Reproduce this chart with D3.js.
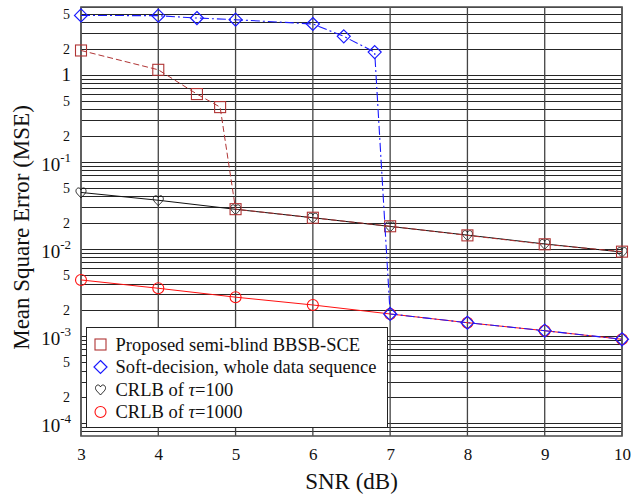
<!DOCTYPE html>
<html>
<head>
<meta charset="utf-8">
<script src="https://cdn.jsdelivr.net/npm/d3@7"></script>
<style>
  body { margin: 0; background: #fff; }
  svg { font-family: "Liberation Serif", "Times New Roman", serif; }
</style>
</head>
<body>
<div id="chart"></div>
<script>
// data
var snrProposed = [3, 4, 4.5, 4.8, 5, 6, 7, 8, 9, 10];
var mseProposed = [1.9, 1.14, 0.6, 0.425, 0.0286, 0.0228, 0.0182, 0.0143, 0.0113, 0.0093];

var snrSoft = [3, 4, 4.5, 5, 6, 6.4, 6.8, 7, 8, 9, 10];
var mseSoft = [4.8, 4.77, 4.48, 4.29, 3.83, 2.76, 1.82, 0.00179, 0.00142, 0.00115, 0.000916];

var snrCrlb = [3, 4, 5, 6, 7, 8, 9, 10];
var mseCrlb100 = [0.0445, 0.0362, 0.0285, 0.0228, 0.0181, 0.0144, 0.0114, 0.0092];
var mseCrlb1000 = [0.0044, 0.00353, 0.00279, 0.00227, 0.00179, 0.00142, 0.00115, 0.000916];

var xTicks = [3, 4, 5, 6, 7, 8, 9, 10];
var yMajor = [1e-4, 1e-3, 1e-2, 1e-1, 1];
var yMinorLabeled = [2e-4, 5e-4, 2e-3, 5e-3, 2e-2, 5e-2, 2e-1, 5e-1, 2, 5];

// legend labels: [before tau, tau, after tau]
var legendNames = [
    ['Proposed semi-blind BBSB-SCE', '', ''],
    ['Soft-decision, whole data sequence', '', ''],
    ['CRLB of ', '\u03c4', '=100'],
    ['CRLB of ', '\u03c4', '=1000']
];

var W = 634, H = 494;
var plot = { left: 81, right: 622, top: 7, bottom: 436 };

var svg = d3.select('#chart').append('svg')
    .attr('width', W).attr('height', H);

var x = d3.scaleLinear().domain([3, 10]).range([plot.left, plot.right]);
var y = d3.scaleLog().domain([7.1e-5, 6]).range([plot.bottom, plot.top]);

// horizontal grid at every 1..9 x decade
var hGrid = [];
for (var e = -5; e <= 0; e++) {
    for (var k = 1; k <= 9; k++) {
        var v = k * Math.pow(10, e);
        if (v >= y.domain()[0] && v <= y.domain()[1]) hGrid.push(v);
    }
}
svg.append('g').selectAll('line').data(hGrid).enter().append('line')
    .attr('x1', plot.left).attr('x2', plot.right)
    .attr('y1', function(d) { return Math.round(y(d)) + 0.5; })
    .attr('y2', function(d) { return Math.round(y(d)) + 0.5; })
    .attr('stroke', '#262626').attr('stroke-width', 1.1);

svg.append('g').selectAll('line').data(xTicks).enter().append('line')
    .attr('x1', function(d) { return x(d); }).attr('x2', function(d) { return x(d); })
    .attr('y1', plot.top).attr('y2', plot.bottom)
    .attr('stroke', '#444').attr('stroke-width', 1.3);

svg.append('rect')
    .attr('x', plot.left).attr('y', plot.top)
    .attr('width', plot.right - plot.left).attr('height', plot.bottom - plot.top)
    .attr('fill', 'none').attr('stroke', '#555').attr('stroke-width', 1.6);

// x axis
var xAxis = svg.append('g')
    .attr('transform', 'translate(0,' + plot.bottom + ')')
    .call(d3.axisBottom(x).tickValues(xTicks).tickSize(0).tickPadding(12).tickFormat(d3.format('d')));
xAxis.select('.domain').remove();
xAxis.selectAll('text')
    .attr('font-family', '"Liberation Serif", serif')
    .attr('font-size', 17).attr('fill', '#111');

// y axis, major labels with superscripts
var yAxis = svg.append('g')
    .attr('transform', 'translate(' + plot.left + ',0)')
    .call(d3.axisLeft(y).tickValues(yMajor).tickSize(0).tickPadding(10).tickFormat(''));
yAxis.select('.domain').remove();
yAxis.selectAll('.tick text').each(function(d) {
    var t = d3.select(this)
        .attr('font-family', '"Liberation Serif", serif')
        .attr('fill', '#111').attr('font-size', 19);
    var ex = Math.round(Math.log10(d));
    if (ex === 0) {
        t.text('1');
    } else {
        t.attr('dy', '0.45em');
        t.append('tspan').text('10');
        t.append('tspan').attr('font-size', 13).attr('dy', '-0.7em').text(String(ex));
    }
});

var yMinorAxis = svg.append('g')
    .attr('transform', 'translate(' + (plot.left - 11) + ',0)')
    .call(d3.axisLeft(y).tickValues(yMinorLabeled).tickSize(0).tickPadding(0)
        .tickFormat(function(d) {
            return String(Math.round(d / Math.pow(10, Math.floor(Math.log10(d) + 1e-9))));
        }));
yMinorAxis.select('.domain').remove();
yMinorAxis.selectAll('text')
    .attr('font-family', '"Liberation Serif", serif')
    .attr('font-size', 14).attr('fill', '#111');

// axis titles
svg.append('text')
    .attr('x', (plot.left + plot.right) / 2).attr('y', 489)
    .attr('text-anchor', 'middle').attr('font-size', 23).attr('fill', '#111')
    .text('SNR (dB)');
svg.append('text')
    .attr('transform', 'translate(29,' + ((plot.top + plot.bottom) / 2 + 6) + ') rotate(-90)')
    .attr('text-anchor', 'middle').attr('font-size', 23).attr('fill', '#111')
    .text('Mean Square Error (MSE)');

// markers
function heartPath(s) {
    return 'M0,' + (s * 0.55) +
        ' C' + (-s * 0.25) + ',' + (s * 0.25) + ' ' + (-s * 0.55) + ',' + (s * 0.05) + ' ' + (-s * 0.5) + ',' + (-s * 0.2) +
        ' C' + (-s * 0.45) + ',' + (-s * 0.5) + ' ' + (-s * 0.1) + ',' + (-s * 0.55) + ' 0,' + (-s * 0.25) +
        ' C' + (s * 0.1) + ',' + (-s * 0.55) + ' ' + (s * 0.45) + ',' + (-s * 0.5) + ' ' + (s * 0.5) + ',' + (-s * 0.2) +
        ' C' + (s * 0.55) + ',' + (s * 0.05) + ' ' + (s * 0.25) + ',' + (s * 0.25) + ' 0,' + (s * 0.55) + 'Z';
}

function drawMarker(g, type, color) {
    if (type === 'square') {
        g.append('rect').attr('x', -5.5).attr('y', -5.5).attr('width', 11).attr('height', 11)
            .attr('fill', 'none').attr('stroke', color).attr('stroke-width', 1.1);
    } else if (type === 'diamond') {
        g.append('path').attr('d', 'M0,-6.5L6.5,0L0,6.5L-6.5,0Z')
            .attr('fill', 'none').attr('stroke', color).attr('stroke-width', 1.2);
    } else if (type === 'heart') {
        g.append('path').attr('d', heartPath(10))
            .attr('fill', 'none').attr('stroke', color).attr('stroke-width', 0.9);
    } else {
        g.append('circle').attr('r', 5.5)
            .attr('fill', 'none').attr('stroke', color).attr('stroke-width', 1.1);
    }
}

var series = [
    { xs: snrCrlb, ys: mseCrlb100, color: '#111', dash: null, marker: 'heart', width: 1 },
    { xs: snrCrlb, ys: mseCrlb1000, color: '#ff1010', dash: null, marker: 'circle', width: 1 },
    { xs: snrProposed, ys: mseProposed, color: '#b03434', dash: '6,3', marker: 'square', width: 1 },
    { xs: snrSoft, ys: mseSoft, color: '#1a1aff', dash: '9,3,2,3', marker: 'diamond', width: 1.1 }
];

var line = d3.line()
    .x(function(d) { return x(d[0]); })
    .y(function(d) { return y(d[1]); });

series.forEach(function(s) {
    var pts = s.xs.map(function(v, i) { return [v, s.ys[i]]; });
    svg.append('path').datum(pts)
        .attr('d', line)
        .attr('fill', 'none')
        .attr('stroke', s.color)
        .attr('stroke-width', s.width)
        .attr('stroke-dasharray', s.dash);
    svg.append('g').selectAll('g').data(pts).enter().append('g')
        .attr('transform', function(d) { return 'translate(' + x(d[0]) + ',' + y(d[1]) + ')'; })
        .each(function() { drawMarker(d3.select(this), s.marker, s.color); });
});

// legend
var legend = svg.append('g').attr('transform', 'translate(86.5,327.5)');
legend.append('rect').attr('width', 301).attr('height', 100)
    .attr('fill', '#fff').attr('stroke', '#222').attr('stroke-width', 1);

var legendItems = [
    { name: legendNames[0], color: '#b03434', marker: 'square' },
    { name: legendNames[1], color: '#1a1aff', marker: 'diamond' },
    { name: legendNames[2], color: '#111', marker: 'heart' },
    { name: legendNames[3], color: '#ff1010', marker: 'circle' }
];
legend.selectAll('g.item').data(legendItems).enter().append('g')
    .attr('class', 'item')
    .attr('transform', function(d, i) { return 'translate(14,' + (17 + i * 22.5) + ')'; })
    .each(function(d) {
        var g = d3.select(this);
        drawMarker(g, d.marker, d.color);
        var t = g.append('text').attr('x', 15).attr('dy', '0.35em')
            .attr('font-size', 18.5).attr('fill', '#111');
        t.append('tspan').text(d.name[0]);
        if (d.name[1]) {
            t.append('tspan').attr('font-style', 'italic').text(d.name[1]);
            t.append('tspan').text(d.name[2]);
        }
    });
</script>
</body>
</html>
